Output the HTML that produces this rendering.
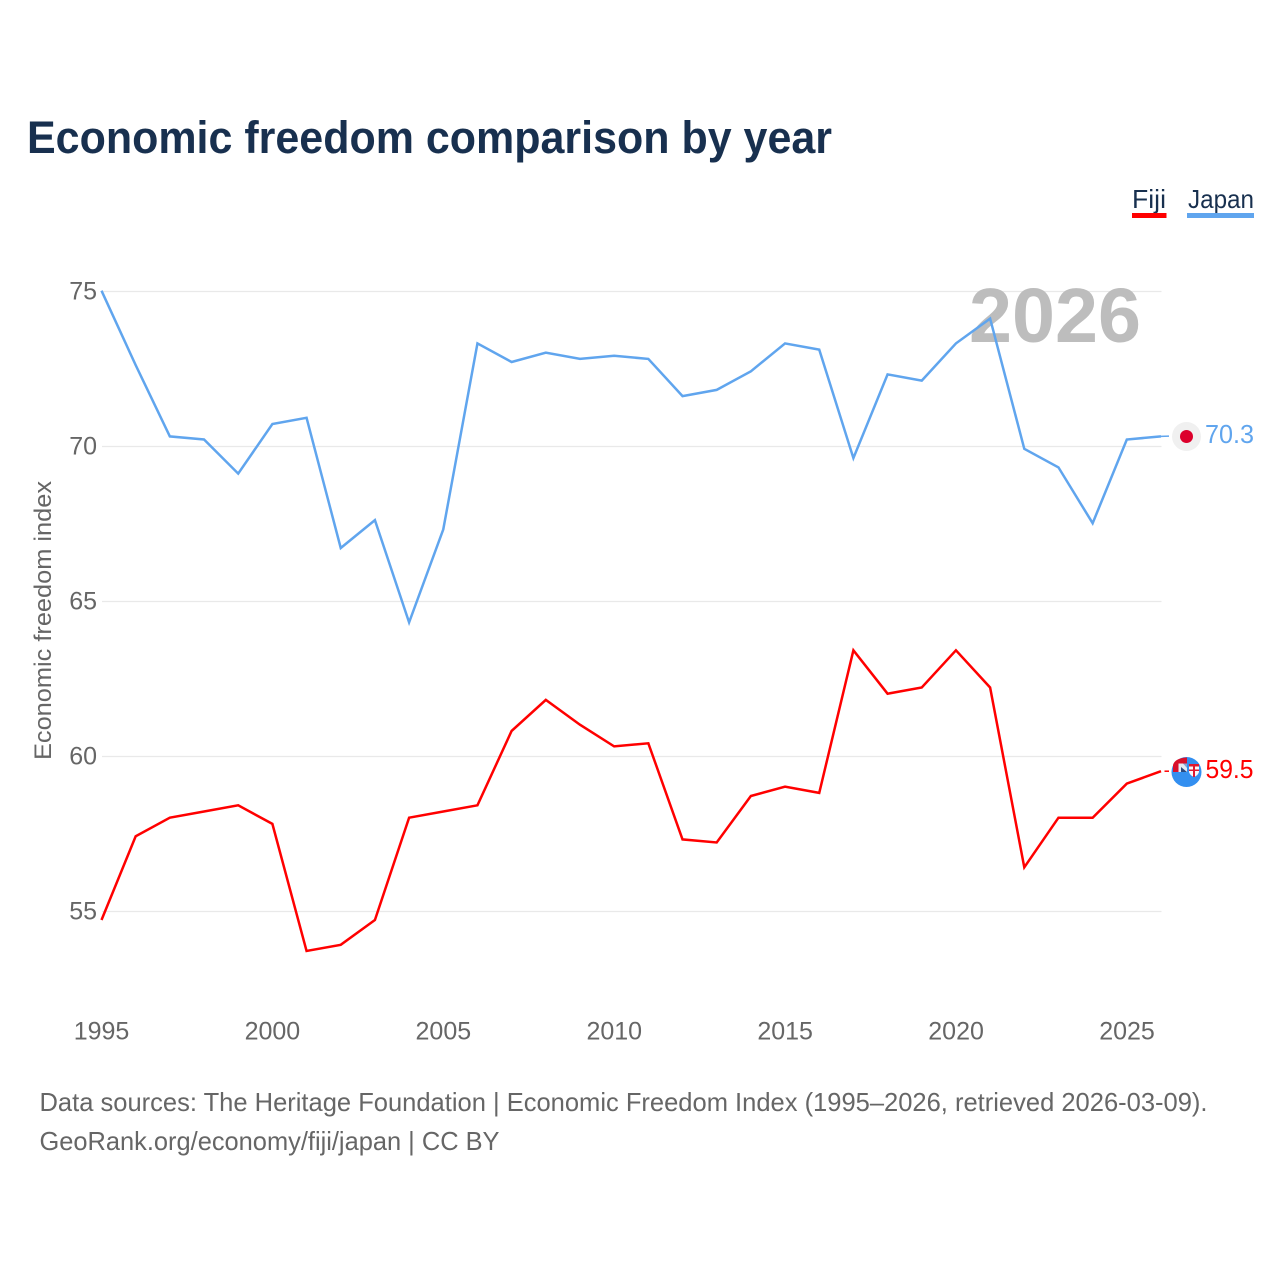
<!DOCTYPE html>
<html>
<head>
<meta charset="utf-8">
<title>Economic freedom comparison by year</title>
<style>
html,body{margin:0;padding:0;background:#fff;width:1280px;height:1280px;overflow:hidden}
svg{display:block}
text{font-family:"Liberation Sans",sans-serif}
</style>
</head>
<body>
<svg id="chart" width="1280" height="1280" viewBox="0 0 1280 1280" xmlns="http://www.w3.org/2000/svg">
  <rect x="0" y="0" width="1280" height="1280" fill="#fff"/>
  <text x="27" y="153" font-size="45" font-weight="700" fill="#18304f" textLength="805" lengthAdjust="spacingAndGlyphs">Economic freedom comparison by year</text>

  <g>
    <g>
      <text x="1132" y="208" font-size="26" fill="#18304f" textLength="34" lengthAdjust="spacingAndGlyphs">Fiji</text>
      <rect x="1132" y="213" width="34.5" height="5" fill="#ff0000"/>
    </g>
    <g>
      <text x="1188" y="208" font-size="26" fill="#18304f" textLength="66" lengthAdjust="spacingAndGlyphs">Japan</text>
      <rect x="1187" y="213" width="67" height="5" fill="#60a5ee"/>
    </g>
  </g>

  <g id="grid"></g>
  <text x="969" y="342" font-size="77" font-weight="700" fill="#bdbdbd" textLength="172" lengthAdjust="spacingAndGlyphs">2026</text>
  <g id="yticks"></g>
  <g id="xticks"></g>
  <text transform="translate(51,760) rotate(-90)" x="0" y="0" font-size="24" fill="#666" textLength="279" lengthAdjust="spacingAndGlyphs">Economic freedom index</text>
  <g id="series"></g>

  <g>
    <circle cx="1186.500" cy="436.500" r="14.500" fill="#f0f0f0"/>
    <circle cx="1186.500" cy="436.500" r="6.500" fill="#dc002c"/>
  </g>
  <g>
    <circle cx="1186.500" cy="772" r="15" fill="#338ff0"/>
    <path d="M1173 772 V765 Q1175 758 1187 757.500 V772 Z" fill="#d8102c"/>
    <path d="M1178.500 763.500 H1187 V772 H1178.500 Z" fill="#e4ebf5"/>
    <path d="M1181 767 L1187 772 H1181 Z" fill="#2b4a80"/>
    <path d="M1183 763.500 H1187 V768 Z" fill="#7fa4d8"/>
    <path d="M1189 764 H1199 V772 Q1198 775.500 1194 777 Q1190 775.500 1189 772 Z" fill="#f8f8f8"/>
    <path d="M1189 764 H1199 V766.500 H1195 V769.500 H1199 V771 H1195 V777 H1193 V771 H1189 V769.500 H1193 V766.500 H1189 Z" fill="#e01830"/>
  </g>

  <text x="1205" y="443" font-size="25.500" fill="#60a5ee" textLength="49" lengthAdjust="spacingAndGlyphs">70.3</text>
  <text x="1205.500" y="778" font-size="25.500" fill="#ff0000" textLength="48" lengthAdjust="spacingAndGlyphs">59.5</text>

  <g>
    <text x="39.500" y="1111" font-size="26" fill="#666" textLength="1168" lengthAdjust="spacingAndGlyphs">Data sources: The Heritage Foundation | Economic Freedom Index (1995–2026, retrieved 2026-03-09).</text>
    <text x="39.500" y="1150" font-size="26" fill="#666" textLength="460" lengthAdjust="spacingAndGlyphs">GeoRank.org/economy/fiji/japan | CC BY</text>
  </g>
</svg>
<script>
const years = [1995,1996,1997,1998,1999,2000,2001,2002,2003,2004,2005,2006,2007,2008,2009,2010,2011,2012,2013,2014,2015,2016,2017,2018,2019,2020,2021,2022,2023,2024,2025,2026];
const japanValues = [75.0,72.6,70.3,70.2,69.1,70.7,70.9,66.7,67.6,64.3,67.3,73.3,72.7,73.0,72.8,72.9,72.8,71.6,71.8,72.4,73.3,73.1,69.6,72.3,72.1,73.3,74.1,69.9,69.3,67.5,70.2,70.3];
const fijiValues = [54.7,57.4,58.0,58.2,58.4,57.8,53.7,53.9,54.7,58.0,58.2,58.4,60.8,61.8,61.0,60.3,60.4,57.3,57.2,58.7,59.0,58.8,63.4,62.0,62.2,63.4,62.2,56.4,58.0,58.0,59.1,59.5];
const yTickValues = [55,60,65,70,75];
const xTickYears = [1995,2000,2005,2010,2015,2020,2025];

const NS = 'http://www.w3.org/2000/svg';
function xScale(year){ return 101.5 + (year - 1995) * (1161 - 101.5) / 31; }
function yScale(v){ return 291.5 + (75 - v) * 31; }
function lineY(v){ return yScale(v) - 0.8; }
function labelX(year){ return 102 + (year - 1995) * (1127.5 - 102) / 30; }

const gridG = document.getElementById('grid');
const yG = document.getElementById('yticks');
const xG = document.getElementById('xticks');
const seriesG = document.getElementById('series');

yTickValues.forEach(function(v){
  const line = document.createElementNS(NS,'line');
  
  
  line.setAttribute('x1', 102);
  line.setAttribute('x2', 1161.500);
  line.setAttribute('y1', yScale(v));
  line.setAttribute('y2', yScale(v));
  line.setAttribute('stroke', '#e9e9e9');
  line.setAttribute('stroke-width', '1.300');
  gridG.appendChild(line);
  const t = document.createElementNS(NS,'text');
  
  
  t.setAttribute('x', 97);
  t.setAttribute('y', yScale(v) + 8);
  t.setAttribute('text-anchor', 'end');
  t.setAttribute('font-size', '25');
  t.setAttribute('fill', '#666');
  t.textContent = String(v);
  yG.appendChild(t);
});

xTickYears.forEach(function(y){
  const t = document.createElementNS(NS,'text');
  
  
  t.setAttribute('x', labelX(y) - 0.5);
  t.setAttribute('y', 1039.500);
  t.setAttribute('text-anchor', 'middle');
  t.setAttribute('font-size', '25');
  t.setAttribute('fill', '#666');
  t.textContent = String(y);
  xG.appendChild(t);
});

function linePoints(values){
  return values.map(function(v,i){ return xScale(years[i]).toFixed(2) + ',' + lineY(v).toFixed(2); }).join(' ');
}

const japanLine = document.createElementNS(NS,'polyline');


japanLine.setAttribute('points', linePoints(japanValues));
japanLine.setAttribute('fill', 'none');
japanLine.setAttribute('stroke', '#60a5ee');
japanLine.setAttribute('stroke-width', '2.500');
seriesG.appendChild(japanLine);

const fijiLine = document.createElementNS(NS,'polyline');


fijiLine.setAttribute('points', linePoints(fijiValues));
fijiLine.setAttribute('fill', 'none');
fijiLine.setAttribute('stroke', '#ff0000');
fijiLine.setAttribute('stroke-width', '2.500');
seriesG.appendChild(fijiLine);

const japanConnector = document.createElementNS(NS,'line');


japanConnector.setAttribute('x1', 1161);
japanConnector.setAttribute('x2', 1169);
japanConnector.setAttribute('y1', lineY(japanValues[japanValues.length - 1]));
japanConnector.setAttribute('y2', lineY(japanValues[japanValues.length - 1]) - 0.3);
japanConnector.setAttribute('stroke', '#60a5ee');
japanConnector.setAttribute('stroke-width', '1.500');
seriesG.appendChild(japanConnector);

const fijiConnector = document.createElementNS(NS,'line');


fijiConnector.setAttribute('x1', 1164.500);
fijiConnector.setAttribute('x2', 1169);
fijiConnector.setAttribute('y1', lineY(fijiValues[fijiValues.length - 1]));
fijiConnector.setAttribute('y2', lineY(fijiValues[fijiValues.length - 1]));
fijiConnector.setAttribute('stroke', '#ff0000');
fijiConnector.setAttribute('stroke-width', '1.500');
seriesG.appendChild(fijiConnector);
</script>
</body>
</html>
